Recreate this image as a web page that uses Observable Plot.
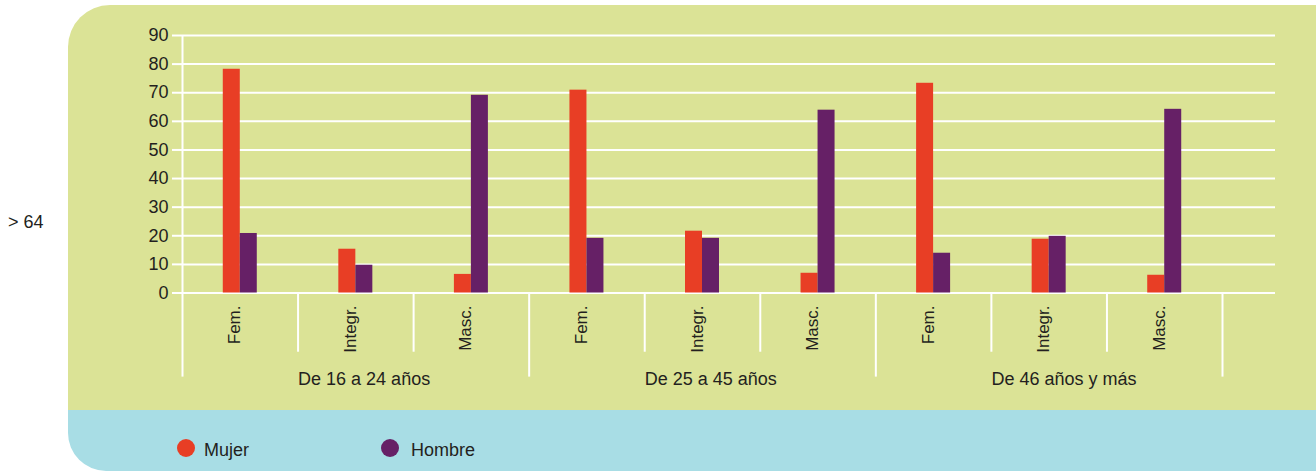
<!DOCTYPE html>
<html><head><meta charset="utf-8">
<script src="https://cdn.jsdelivr.net/npm/d3@7"></script>
<script src="https://cdn.jsdelivr.net/npm/@observablehq/plot@0.6"></script>
<style>
html,body{margin:0;padding:0;background:#fff;}
#wrap{position:relative;width:1316px;height:472px;overflow:hidden;font-family:"Liberation Sans",Arial,sans-serif;color:#231f20;}
#green{position:absolute;left:68px;top:5px;width:1300px;height:405px;background:#dbe396;border-top-left-radius:42px;}
#blue{position:absolute;left:68px;top:410px;width:1300px;height:61px;background:#a8dde5;border-bottom-left-radius:38px;}
#side{position:absolute;left:8px;top:213px;font-size:18px;line-height:18px;}
#chart{position:absolute;left:0;top:0;}
.dot{position:absolute;width:18px;height:18px;border-radius:50%;top:439px;}
.lab{position:absolute;top:441px;font-size:18px;line-height:18px;}
</style></head>
<body>
<div id="wrap">
  <div id="green"></div>
  <div id="blue"></div>
  <div id="side">&gt; 64</div>
  <div id="chart"></div>
  <div id="legend"></div>
</div>
<script>
const ages = ["De 16 a 24 años", "De 25 a 45 años", "De 46 años y más"];
const types = ["Fem.", "Integr.", "Masc."];
const series = ["Mujer", "Hombre"];
const colors = ["#e83e25", "#662066"];
const mujer = [78.2, 15.3, 6.5, 70.9, 21.6, 6.9, 73.3, 18.8, 6.2];
const hombre = [20.8, 9.7, 69.1, 19.1, 19.1, 63.9, 13.9, 19.8, 64.2];
const yTicks = [0, 10, 20, 30, 40, 50, 60, 70, 80, 90];

const keys = ages.flatMap(a => types.map(t => a + "|" + t));
const rows = keys.flatMap((k, i) => [
  {key: k, sex: series[0], value: mujer[i]},
  {key: k, sex: series[1], value: hombre[i]}
]);

const xRange = [182, 1222];
const bw = (xRange[1] - xRange[0]) / keys.length;
const barW = 17;
const ink = "#231f20";
const font = '"Liberation Sans", Arial, sans-serif';

const plot = Plot.plot({
  width: 1316,
  height: 410,
  marginLeft: 182,
  marginRight: 41,
  marginTop: 35,
  marginBottom: 117.5,
  style: {background: "transparent", fontFamily: font, fontSize: "18px", color: ink},
  x: {type: "band", domain: keys, range: xRange, padding: 0, round: false, axis: null},
  y: {domain: [0, 90], axis: null, label: null},
  marks: [
    Plot.ruleY(yTicks, {stroke: "#fff", strokeWidth: 2}),
    Plot.axisY({ticks: yTicks, tickSize: 10, tickPadding: 4, stroke: "#fff", strokeWidth: 2, fill: ink, fontSize: 18, label: null}),
    Plot.barY(rows.filter(d => d.sex === series[0]), {x: "key", y: "value", fill: colors[0], insetLeft: bw / 2 - barW, insetRight: bw / 2}),
    Plot.barY(rows.filter(d => d.sex === series[1]), {x: "key", y: "value", fill: colors[1], insetLeft: bw / 2, insetRight: bw / 2 - barW}),
    // y axis line
    Plot.ruleX([keys[0]], {x: d => d, dx: -bw / 2, y1: 0, y2: 90, stroke: "#fff", strokeWidth: 2}),
    // short separators
    Plot.ruleX(keys.filter((k, i) => i % 3 !== 0), {x: d => d, dx: -bw / 2, y1: 0, y2: -20.7, stroke: "#fff", strokeWidth: 2}),
    // long separators
    Plot.ruleX(keys.filter((k, i) => i % 3 === 0), {x: d => d, dx: -bw / 2, y1: 0, y2: -29.4, stroke: "#fff", strokeWidth: 2}),
    Plot.ruleX([keys[keys.length - 1]], {x: d => d, dx: bw / 2, y1: 0, y2: -29.4, stroke: "#fff", strokeWidth: 2}),
    // category labels
    Plot.text(keys, {x: d => d, text: d => d.split("|")[1], rotate: -90, textAnchor: "end", frameAnchor: "bottom", dy: 12.5, fontSize: 17, fill: ink}),
    // group labels
    Plot.text(ages, {x: a => a + "|" + types[1], text: d => d, textAnchor: "start", frameAnchor: "bottom", dx: -bw / 2, dy: 92, fontSize: 18, fill: ink})
  ]
});
document.getElementById("chart").appendChild(plot);

const legendPos = [{dot: 177, text: 204}, {dot: 381, text: 411}];
const legend = document.getElementById("legend");
series.forEach((s, i) => {
  const d = document.createElement("div");
  d.className = "dot"; d.style.left = legendPos[i].dot + "px"; d.style.background = colors[i];
  legend.appendChild(d);
  const t = document.createElement("div");
  t.className = "lab"; t.style.left = legendPos[i].text + "px"; t.textContent = s;
  legend.appendChild(t);
});
</script>
</body></html>
